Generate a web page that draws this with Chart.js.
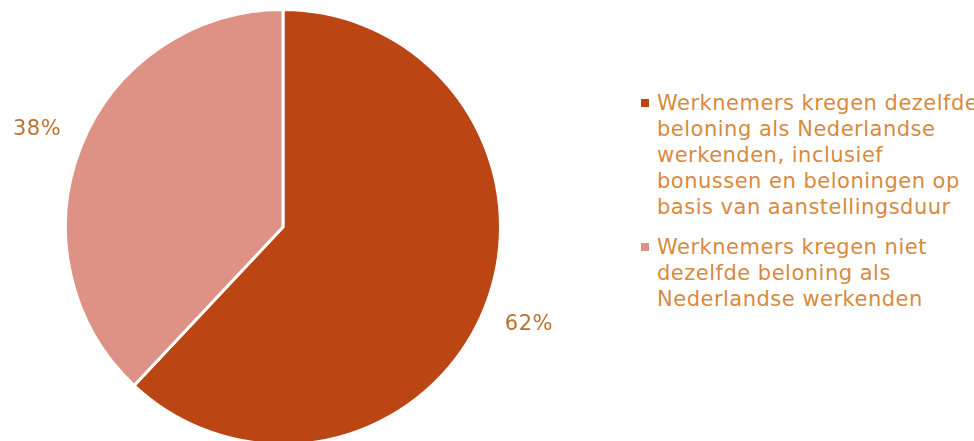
<!DOCTYPE html>
<html>
<head>
<meta charset="utf-8">
<script src="https://cdn.jsdelivr.net/npm/chart.js@4"></script>
<style>
  html, body { margin: 0; padding: 0; background: #fff; overflow: hidden; }
  #wrap { position: relative; width: 974px; height: 441px; overflow: hidden; }
  #pieBox { position: absolute; left: 0; top: 0; width: 566px; height: 454px; }
  #legend { position: absolute; left: 640px; top: 90px; width: 345px;
            font-family: "DejaVu Sans", Verdana, sans-serif; font-size: 21px;
            letter-spacing: 0.5px; line-height: 26px; color: #d88a3e; }
  .item { position: relative; padding-left: 17px; margin-bottom: 14px; }
  .box { position: absolute; left: 1px; top: 9px; width: 8px; height: 8px; }
</style>
</head>
<body>
<div id="wrap">
  <div id="pieBox"><canvas id="pie"></canvas></div>
  <div id="legend"></div>
</div>
<script>
// data
const categories = [
    'Werknemers kregen dezelfde beloning als Nederlandse werkenden, inclusief bonussen en beloningen op basis van aanstellingsduur',
    'Werknemers kregen niet dezelfde beloning als Nederlandse werkenden'
];
const values = [62, 38];
const colors = ['#bb4513', '#de9286'];

// legend in html, want the text wraps
const legendDiv = document.getElementById('legend');
categories.forEach((cat, i) => {
    const item = document.createElement('div');
    item.classList.add('item');
    item.innerHTML = `<span class="box" style="background:${colors[i]}"></span>${cat}`;
    legendDiv.appendChild(item);
});

// percentages outside the slices
const outsideLabels = {
    id: 'outsideLabels',
    afterDatasetsDraw(chart) {
        const ctx = chart.ctx;
        const meta = chart.getDatasetMeta(0);
        ctx.save();
        ctx.font = '21px "DejaVu Sans", Verdana, sans-serif';
        ctx.letterSpacing = '0.5px';
        ctx.fillStyle = '#b8732f';
        ctx.textAlign = 'center';
        ctx.textBaseline = 'middle';
        meta.data.forEach((arc, i) => {
            const mid = (arc.startAngle + arc.endAngle) / 2;
            const r = arc.outerRadius + 47;
            ctx.fillText(values[i] + '%', arc.x + Math.cos(mid) * r, arc.y + Math.sin(mid) * r);
        });
        ctx.restore();
    }
};

new Chart(document.getElementById('pie').getContext('2d'), {
    type: 'pie',
    data: {
        labels: categories,
        datasets: [{
            data: values,
            backgroundColor: colors,
            borderColor: '#ffffff',
            borderWidth: 3
        }]
    },
    options: {
        responsive: true,
        maintainAspectRatio: false,
        animation: false,
        layout: { padding: { top: 8, bottom: 8 } },
        plugins: {
            legend: { display: false },
            tooltip: { enabled: false }
        }
    },
    plugins: [outsideLabels]
});
</script>
</body>
</html>
